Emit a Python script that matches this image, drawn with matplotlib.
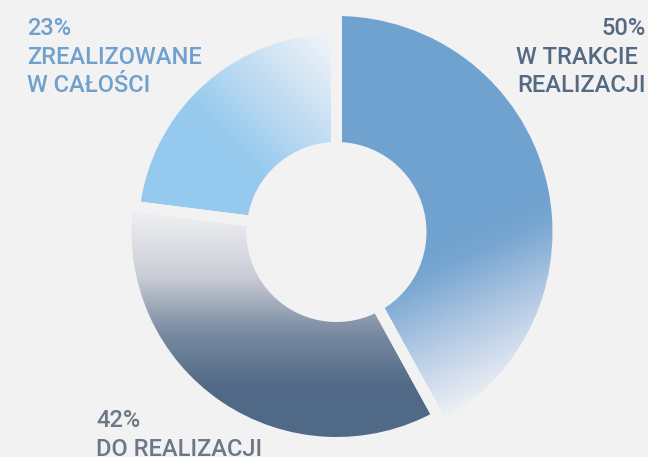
import numpy as np
import matplotlib
matplotlib.use("Agg")
import matplotlib.pyplot as plt
from matplotlib.colors import LinearSegmentedColormap

# data
categories = [["W TRAKCIE", "REALIZACJI"], ["DO REALIZACJI"], ["ZREALIZOWANE", "W CAŁOŚCI"]]
label_pcts = [50, 42, 23]
shares = [42, 35, 23]  # slice sizes as drawn

BG = "#f2f2f2"
W, H = 648, 457
cx, cy = 336.5, 457 - 232  # donut centre in pixel coords (y up)
r_inner = 90
outer_radii = [216, 205, 198]
gap_px = 11

plt.rcParams["font.family"] = ["Roboto", "DejaVu Sans"]

fig = plt.figure(figsize=(W / 100, H / 100), dpi=100)
fig.patch.set_facecolor(BG)
ax = fig.add_axes([0, 0, 1, 1])
ax.set_facecolor(BG)

gap_pt = gap_px * 72 / 100
wedges, _ = ax.pie(
    shares,
    center=(cx, cy),
    startangle=90,
    counterclock=False,
    wedgeprops=dict(facecolor="none", edgecolor=BG, linewidth=gap_pt, zorder=3),
)

# gradients, built in screen coords (y down)
X, Y = np.meshgrid(np.arange(W) + 0.5, np.arange(H) + 0.5)


def rgb(*c):
    return tuple(v / 255 for v in c)


grads = [
    (
        np.clip((0.42 * X + 0.91 * Y - 405) / 165, 0, 1),
        [(0, rgb(112, 162, 207)), (0.15, rgb(120, 166, 210)),
         (0.55, rgb(180, 202, 228)), (1, rgb(241, 242, 246))],
    ),
    (
        np.clip((Y - 215) / 172, 0, 1),
        [(0, rgb(237, 238, 241)), (0.35, rgb(203, 206, 215)),
         (0.68, rgb(122, 139, 161)), (1, rgb(80, 105, 135))],
    ),
    (
        np.clip((0.7 * X - 0.7 * Y - 60) / 140, 0, 1),
        [(0, rgb(150, 201, 238)), (1, rgb(238, 242, 248))],
    ),
]

for w, r_out, (t, stops) in zip(wedges, outer_radii, grads):
    w.set_radius(r_out + gap_px / 2)
    w.set_width(r_out + gap_px - r_inner)
    cmap = LinearSegmentedColormap.from_list("g", stops)
    im = ax.imshow(t, cmap=cmap, vmin=0, vmax=1, extent=(0, W, 0, H),
                   origin="upper", interpolation="bilinear", zorder=2)
    im.set_clip_path(w)

# labels
line_h = 28.5
label_layout = [
    dict(x=[646, 638, 646], y=35, ha="right", color="#546a83"),
    dict(x=[96, 96], y=427, ha="left", color="#6c7888"),
    dict(x=[27, 27, 27], y=35, ha="left", color="#6fa0ce"),
]
for pct, lines, lay in zip(label_pcts, categories, label_layout):
    for i, s in enumerate([f"{pct}%"] + lines):
        ax.text(lay["x"][i], H - (lay["y"] + i * line_h), s, ha=lay["ha"],
                va="baseline", fontsize=17, fontweight="medium",
                color=lay["color"], zorder=4)

ax.set_xlim(0, W)
ax.set_ylim(0, H)
ax.set_aspect("auto")
ax.axis("off")

fig.savefig("out.png", dpi=100, facecolor=BG)
